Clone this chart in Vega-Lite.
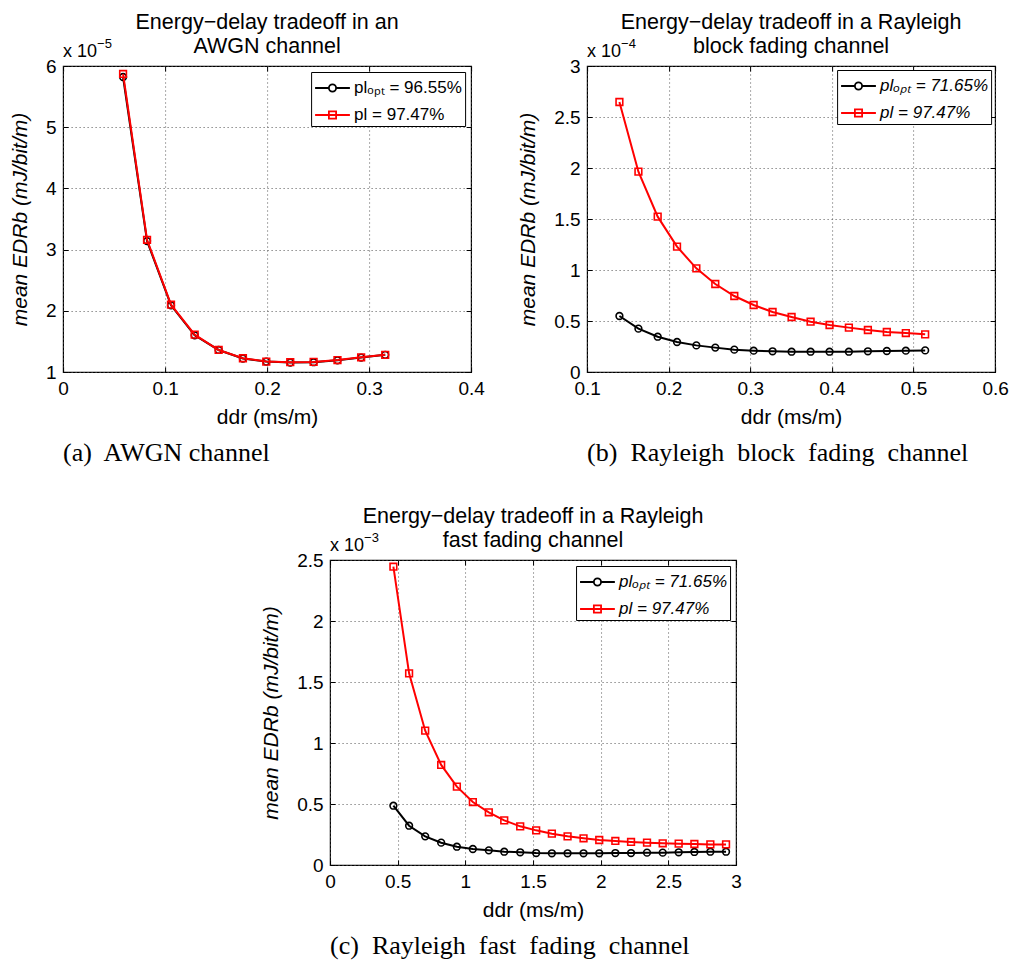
{
  "$schema": "https://vega.github.io/schema/vega-lite/v6.json",
  "padding": {"left": 8, "top": 10, "right": 2, "bottom": 2},
  "background": "white",
  "datasets": {
    "awgn": [
      {"ddr": 0.0588, "edr": 5.82, "s": "opt"}, {"ddr": 0.0823, "edr": 3.14, "s": "opt"},
      {"ddr": 0.1058, "edr": 2.09, "s": "opt"}, {"ddr": 0.1290, "edr": 1.60, "s": "opt"},
      {"ddr": 0.1525, "edr": 1.36, "s": "opt"}, {"ddr": 0.1763, "edr": 1.22, "s": "opt"},
      {"ddr": 0.1992, "edr": 1.17, "s": "opt"}, {"ddr": 0.2227, "edr": 1.155, "s": "opt"},
      {"ddr": 0.2456, "edr": 1.16, "s": "opt"}, {"ddr": 0.2690, "edr": 1.19, "s": "opt"},
      {"ddr": 0.2922, "edr": 1.235, "s": "opt"}, {"ddr": 0.3158, "edr": 1.28, "s": "opt"},
      {"ddr": 0.0588, "edr": 5.87, "s": "pl"}, {"ddr": 0.0823, "edr": 3.16, "s": "pl"},
      {"ddr": 0.1058, "edr": 2.10, "s": "pl"}, {"ddr": 0.1290, "edr": 1.61, "s": "pl"},
      {"ddr": 0.1525, "edr": 1.36, "s": "pl"}, {"ddr": 0.1763, "edr": 1.225, "s": "pl"},
      {"ddr": 0.1992, "edr": 1.17, "s": "pl"}, {"ddr": 0.2227, "edr": 1.16, "s": "pl"},
      {"ddr": 0.2456, "edr": 1.165, "s": "pl"}, {"ddr": 0.2690, "edr": 1.195, "s": "pl"},
      {"ddr": 0.2922, "edr": 1.24, "s": "pl"}, {"ddr": 0.3158, "edr": 1.28, "s": "pl"}
    ],
    "block": [
      {"ddr": 0.1396, "edr": 0.549, "s": "opt"}, {"ddr": 0.1629, "edr": 0.425, "s": "opt"},
      {"ddr": 0.1865, "edr": 0.346, "s": "opt"}, {"ddr": 0.2102, "edr": 0.294, "s": "opt"},
      {"ddr": 0.2339, "edr": 0.261, "s": "opt"}, {"ddr": 0.2571, "edr": 0.239, "s": "opt"},
      {"ddr": 0.2804, "edr": 0.219, "s": "opt"}, {"ddr": 0.3041, "edr": 0.209, "s": "opt"},
      {"ddr": 0.3273, "edr": 0.203, "s": "opt"}, {"ddr": 0.3506, "edr": 0.199, "s": "opt"},
      {"ddr": 0.3739, "edr": 0.199, "s": "opt"}, {"ddr": 0.3971, "edr": 0.199, "s": "opt"},
      {"ddr": 0.4208, "edr": 0.199, "s": "opt"}, {"ddr": 0.4441, "edr": 0.203, "s": "opt"},
      {"ddr": 0.4673, "edr": 0.206, "s": "opt"}, {"ddr": 0.4906, "edr": 0.209, "s": "opt"},
      {"ddr": 0.5143, "edr": 0.212, "s": "opt"},
      {"ddr": 0.1396, "edr": 2.647, "s": "pl"}, {"ddr": 0.1629, "edr": 1.964, "s": "pl"},
      {"ddr": 0.1865, "edr": 1.523, "s": "pl"}, {"ddr": 0.2102, "edr": 1.229, "s": "pl"},
      {"ddr": 0.2339, "edr": 1.016, "s": "pl"}, {"ddr": 0.2571, "edr": 0.863, "s": "pl"},
      {"ddr": 0.2804, "edr": 0.745, "s": "pl"}, {"ddr": 0.3041, "edr": 0.657, "s": "pl"},
      {"ddr": 0.3273, "edr": 0.588, "s": "pl"}, {"ddr": 0.3506, "edr": 0.539, "s": "pl"},
      {"ddr": 0.3739, "edr": 0.493, "s": "pl"}, {"ddr": 0.3971, "edr": 0.461, "s": "pl"},
      {"ddr": 0.4208, "edr": 0.435, "s": "pl"}, {"ddr": 0.4441, "edr": 0.412, "s": "pl"},
      {"ddr": 0.4673, "edr": 0.392, "s": "pl"}, {"ddr": 0.4906, "edr": 0.382, "s": "pl"},
      {"ddr": 0.5143, "edr": 0.369, "s": "pl"}
    ],
    "fast": [
      {"ddr": 0.468, "edr": 0.486, "s": "opt"}, {"ddr": 0.584, "edr": 0.322, "s": "opt"},
      {"ddr": 0.703, "edr": 0.235, "s": "opt"}, {"ddr": 0.821, "edr": 0.183, "s": "opt"},
      {"ddr": 0.937, "edr": 0.150, "s": "opt"}, {"ddr": 1.055, "edr": 0.131, "s": "opt"},
      {"ddr": 1.173, "edr": 0.120, "s": "opt"}, {"ddr": 1.287, "edr": 0.109, "s": "opt"},
      {"ddr": 1.405, "edr": 0.104, "s": "opt"}, {"ddr": 1.523, "edr": 0.098, "s": "opt"},
      {"ddr": 1.639, "edr": 0.096, "s": "opt"}, {"ddr": 1.755, "edr": 0.096, "s": "opt"},
      {"ddr": 1.873, "edr": 0.096, "s": "opt"}, {"ddr": 1.989, "edr": 0.096, "s": "opt"},
      {"ddr": 2.108, "edr": 0.098, "s": "opt"}, {"ddr": 2.224, "edr": 0.098, "s": "opt"},
      {"ddr": 2.342, "edr": 0.101, "s": "opt"}, {"ddr": 2.458, "edr": 0.101, "s": "opt"},
      {"ddr": 2.576, "edr": 0.104, "s": "opt"}, {"ddr": 2.692, "edr": 0.107, "s": "opt"},
      {"ddr": 2.810, "edr": 0.109, "s": "opt"}, {"ddr": 2.926, "edr": 0.109, "s": "opt"},
      {"ddr": 0.468, "edr": 2.445, "s": "pl"}, {"ddr": 0.584, "edr": 1.571, "s": "pl"},
      {"ddr": 0.703, "edr": 1.101, "s": "pl"}, {"ddr": 0.821, "edr": 0.820, "s": "pl"},
      {"ddr": 0.937, "edr": 0.642, "s": "pl"}, {"ddr": 1.055, "edr": 0.516, "s": "pl"},
      {"ddr": 1.173, "edr": 0.432, "s": "pl"}, {"ddr": 1.287, "edr": 0.366, "s": "pl"},
      {"ddr": 1.405, "edr": 0.317, "s": "pl"}, {"ddr": 1.523, "edr": 0.284, "s": "pl"},
      {"ddr": 1.639, "edr": 0.257, "s": "pl"}, {"ddr": 1.755, "edr": 0.235, "s": "pl"},
      {"ddr": 1.873, "edr": 0.219, "s": "pl"}, {"ddr": 1.989, "edr": 0.205, "s": "pl"},
      {"ddr": 2.108, "edr": 0.197, "s": "pl"}, {"ddr": 2.224, "edr": 0.189, "s": "pl"},
      {"ddr": 2.342, "edr": 0.183, "s": "pl"}, {"ddr": 2.458, "edr": 0.178, "s": "pl"},
      {"ddr": 2.576, "edr": 0.175, "s": "pl"}, {"ddr": 2.692, "edr": 0.172, "s": "pl"},
      {"ddr": 2.810, "edr": 0.169, "s": "pl"}, {"ddr": 2.926, "edr": 0.169, "s": "pl"}
    ]
  },
  "config": {
    "font": "Liberation Sans",
    "view": {"stroke": "black", "strokeWidth": 1.2},
    "title": {"font": "Liberation Sans", "fontSize": 21.5, "fontWeight": "normal", "color": "black", "lineHeight": 24, "offset": -19, "frame": "group"},
    "axis": {
      "grid": true, "gridDash": [1, 3], "gridColor": "#555555", "gridWidth": 1,
      "domain": false, "ticks": true, "tickColor": "black", "tickSize": -5, "tickWidth": 1,
      "labelFont": "Liberation Sans", "labelFontSize": 19, "labelColor": "black",
      "labelFlush": false, "labelOverlap": false, "labelPadding": 12, "format": "~g",
      "titleFont": "Liberation Sans", "titleFontSize": 21, "titleFontWeight": "normal", "titleColor": "black"
    },
    "axisX": {"titlePadding": 8},
    "axisY": {"titlePadding": 15, "titleFontStyle": "italic"},
    "legend": {
      "orient": "top-right", "offset": 6, "title": null,
      "strokeColor": "black", "fillColor": "white", "padding": 3,
      "labelFont": "Liberation Sans", "labelFontSize": 17, "labelColor": "black", "labelOffset": 14,
      "symbolSize": 576, "symbolStrokeWidth": 1.8, "symbolOpacity": 1, "rowPadding": 6
    }
  },
  "center": true,
  "spacing": 38,
  "resolve": {"scale": {"stroke": "independent", "shape": "independent"}, "legend": {"stroke": "independent", "shape": "independent"}},
  "vconcat": [
    {
      "spacing": 31,
      "resolve": {"scale": {"stroke": "independent", "shape": "independent"}, "legend": {"stroke": "independent", "shape": "independent"}},
      "hconcat": [
        {
          "title": {"text": "(a)\u00a0 AWGN channel", "orient": "bottom", "font": "Liberation Serif", "fontSize": 26, "offset": 12},
          "resolve": {"scale": {"stroke": "independent", "shape": "independent"}, "legend": {"stroke": "independent", "shape": "independent"}},
          "vconcat": [
            {
              "width": 408, "height": 306,
              "title": {"text": ["Energy\u2212delay tradeoff in an", "AWGN channel"]},
              "data": {"name": "awgn"},
              "resolve": {"axis": {"x": "independent", "y": "independent"}},
              "layer": [
                {
                  "transform": [{"filter": "datum.s == 'opt'"}],
                  "mark": {"type": "line", "strokeWidth": 2, "color": "black"},
                  "encoding": {
                    "x": {"field": "ddr", "type": "quantitative", "title": "ddr (ms/m)", "scale": {"domain": [0, 0.4], "nice": false, "zero": false}, "axis": {"values": [0, 0.1, 0.2, 0.3, 0.4]}},
                    "y": {"field": "edr", "type": "quantitative", "title": "mean EDRb (mJ/bit/m)", "scale": {"domain": [1, 6], "nice": false, "zero": false}, "axis": {"values": [1, 2, 3, 4, 5, 6]}}
                  }
                },
                {
                  "transform": [{"filter": "datum.s == 'opt'"}],
                  "mark": {"type": "point", "shape": "circle", "filled": false, "strokeWidth": 1.6, "size": 45, "opacity": 1, "color": "black"},
                  "encoding": {
                    "x": {"field": "ddr", "type": "quantitative", "axis": {"orient": "top", "labels": false, "title": null, "grid": false, "values": [0, 0.1, 0.2, 0.3, 0.4]}},
                    "y": {"field": "edr", "type": "quantitative", "axis": {"orient": "right", "labels": false, "title": null, "grid": false, "values": [1, 2, 3, 4, 5, 6]}}
                  }
                },
                {
                  "transform": [{"filter": "datum.s == 'pl'"}],
                  "mark": {"type": "line", "strokeWidth": 2, "color": "#ff0000"},
                  "encoding": {
                    "x": {"field": "ddr", "type": "quantitative", "axis": null},
                    "y": {"field": "edr", "type": "quantitative", "axis": null}
                  }
                },
                {
                  "transform": [{"filter": "datum.s == 'pl'"}],
                  "mark": {"type": "point", "shape": "square", "filled": false, "strokeWidth": 1.6, "size": 45, "opacity": 1, "color": "#ff0000"},
                  "encoding": {
                    "x": {"field": "ddr", "type": "quantitative", "axis": null},
                    "y": {"field": "edr", "type": "quantitative", "axis": null}
                  }
                },
                {
                  "data": {"values": []},
                  "mark": {"type": "point", "filled": false, "opacity": 1},
                  "encoding": {
                    "stroke": {"field": "series", "type": "nominal", "scale": {"domain": ["pl\u2092\u209a\u209c = 96.55%", "pl = 97.47%"], "range": ["black", "#ff0000"]}},
                    "shape": {"field": "series", "type": "nominal", "scale": {"domain": ["pl\u2092\u209a\u209c = 96.55%", "pl = 97.47%"], "range": ["M-1,0H0.15M0.75,0H1.9M0.75,0A0.3,0.3 0 1 1 0.15,0A0.3,0.3 0 1 1 0.75,0", "M-1,0H1.9M0.15,-0.3H0.75V0.3H0.15Z"]}}
                  }
                },
                {
                  "data": {"values": [{}]},
                  "mark": {"type": "text", "text": "x 10", "align": "left", "baseline": "alphabetic", "dy": -9, "fontSize": 18, "color": "black"},
                  "encoding": {"x": {"datum": 0, "type": "quantitative", "axis": null}, "y": {"datum": 6, "type": "quantitative", "axis": null}}
                },
                {
                  "data": {"values": [{}]},
                  "mark": {"type": "text", "text": "\u22125", "align": "left", "baseline": "alphabetic", "dx": 34, "dy": -18, "fontSize": 13, "color": "black"},
                  "encoding": {"x": {"datum": 0, "type": "quantitative", "axis": null}, "y": {"datum": 6, "type": "quantitative", "axis": null}}
                }
              ]
            }
          ]
        },
        {
          "title": {"text": "(b)\u00a0 Rayleigh\u00a0 block\u00a0 fading\u00a0 channel", "orient": "bottom", "font": "Liberation Serif", "fontSize": 26, "offset": 12},
          "resolve": {"scale": {"stroke": "independent", "shape": "independent"}, "legend": {"stroke": "independent", "shape": "independent"}},
          "vconcat": [
            {
              "width": 408, "height": 306,
              "title": {"text": ["Energy\u2212delay tradeoff in a Rayleigh", "block fading channel"]},
              "data": {"name": "block"},
              "resolve": {"axis": {"x": "independent", "y": "independent"}},
              "layer": [
                {
                  "transform": [{"filter": "datum.s == 'opt'"}],
                  "mark": {"type": "line", "strokeWidth": 2, "color": "black"},
                  "encoding": {
                    "x": {"field": "ddr", "type": "quantitative", "title": "ddr (ms/m)", "scale": {"domain": [0.1, 0.6], "nice": false, "zero": false}, "axis": {"values": [0.1, 0.2, 0.3, 0.4, 0.5, 0.6]}},
                    "y": {"field": "edr", "type": "quantitative", "title": "mean EDRb (mJ/bit/m)", "scale": {"domain": [0, 3], "nice": false, "zero": false}, "axis": {"values": [0, 0.5, 1, 1.5, 2, 2.5, 3]}}
                  }
                },
                {
                  "transform": [{"filter": "datum.s == 'opt'"}],
                  "mark": {"type": "point", "shape": "circle", "filled": false, "strokeWidth": 1.6, "size": 45, "opacity": 1, "color": "black"},
                  "encoding": {
                    "x": {"field": "ddr", "type": "quantitative", "axis": {"orient": "top", "labels": false, "title": null, "grid": false, "values": [0.1, 0.2, 0.3, 0.4, 0.5, 0.6]}},
                    "y": {"field": "edr", "type": "quantitative", "axis": {"orient": "right", "labels": false, "title": null, "grid": false, "values": [0, 0.5, 1, 1.5, 2, 2.5, 3]}}
                  }
                },
                {
                  "transform": [{"filter": "datum.s == 'pl'"}],
                  "mark": {"type": "line", "strokeWidth": 2, "color": "#ff0000"},
                  "encoding": {
                    "x": {"field": "ddr", "type": "quantitative", "axis": null},
                    "y": {"field": "edr", "type": "quantitative", "axis": null}
                  }
                },
                {
                  "transform": [{"filter": "datum.s == 'pl'"}],
                  "mark": {"type": "point", "shape": "square", "filled": false, "strokeWidth": 1.6, "size": 45, "opacity": 1, "color": "#ff0000"},
                  "encoding": {
                    "x": {"field": "ddr", "type": "quantitative", "axis": null},
                    "y": {"field": "edr", "type": "quantitative", "axis": null}
                  }
                },
                {
                  "data": {"values": []},
                  "mark": {"type": "point", "filled": false, "opacity": 1},
                  "encoding": {
                    "stroke": {"field": "series", "type": "nominal", "scale": {"domain": ["pl\u2092\u209a\u209c = 71.65%", "pl = 97.47%"], "range": ["black", "#ff0000"]}, "legend": {"labelFontStyle": "italic", "offset": 4}},
                    "shape": {"field": "series", "type": "nominal", "scale": {"domain": ["pl\u2092\u209a\u209c = 71.65%", "pl = 97.47%"], "range": ["M-1,0H0.15M0.75,0H1.9M0.75,0A0.3,0.3 0 1 1 0.15,0A0.3,0.3 0 1 1 0.75,0", "M-1,0H1.9M0.15,-0.3H0.75V0.3H0.15Z"]}, "legend": {"labelFontStyle": "italic", "offset": 4}}
                  }
                },
                {
                  "data": {"values": [{}]},
                  "mark": {"type": "text", "text": "x 10", "align": "left", "baseline": "alphabetic", "dy": -9, "fontSize": 18, "color": "black"},
                  "encoding": {"x": {"datum": 0.1, "type": "quantitative", "axis": null}, "y": {"datum": 3, "type": "quantitative", "axis": null}}
                },
                {
                  "data": {"values": [{}]},
                  "mark": {"type": "text", "text": "\u22124", "align": "left", "baseline": "alphabetic", "dx": 34, "dy": -18, "fontSize": 13, "color": "black"},
                  "encoding": {"x": {"datum": 0.1, "type": "quantitative", "axis": null}, "y": {"datum": 3, "type": "quantitative", "axis": null}}
                }
              ]
            }
          ]
        }
      ]
    },
    {
      "title": {"text": "(c)\u00a0 Rayleigh\u00a0 fast\u00a0 fading\u00a0 channel", "orient": "bottom", "font": "Liberation Serif", "fontSize": 26, "offset": 12},
      "resolve": {"scale": {"stroke": "independent", "shape": "independent"}, "legend": {"stroke": "independent", "shape": "independent"}},
      "vconcat": [
        {
          "width": 406, "height": 305,
          "title": {"text": ["Energy\u2212delay tradeoff in a Rayleigh", "fast fading channel"]},
          "data": {"name": "fast"},
          "resolve": {"axis": {"x": "independent", "y": "independent"}},
          "layer": [
            {
              "transform": [{"filter": "datum.s == 'opt'"}],
              "mark": {"type": "line", "strokeWidth": 2, "color": "black"},
              "encoding": {
                "x": {"field": "ddr", "type": "quantitative", "title": "ddr (ms/m)", "scale": {"domain": [0, 3], "nice": false, "zero": false}, "axis": {"values": [0, 0.5, 1, 1.5, 2, 2.5, 3]}},
                "y": {"field": "edr", "type": "quantitative", "title": "mean EDRb (mJ/bit/m)", "scale": {"domain": [0, 2.5], "nice": false, "zero": false}, "axis": {"values": [0, 0.5, 1, 1.5, 2, 2.5]}}
              }
            },
            {
              "transform": [{"filter": "datum.s == 'opt'"}],
              "mark": {"type": "point", "shape": "circle", "filled": false, "strokeWidth": 1.6, "size": 45, "opacity": 1, "color": "black"},
              "encoding": {
                "x": {"field": "ddr", "type": "quantitative", "axis": {"orient": "top", "labels": false, "title": null, "grid": false, "values": [0, 0.5, 1, 1.5, 2, 2.5, 3]}},
                "y": {"field": "edr", "type": "quantitative", "axis": {"orient": "right", "labels": false, "title": null, "grid": false, "values": [0, 0.5, 1, 1.5, 2, 2.5]}}
              }
            },
            {
              "transform": [{"filter": "datum.s == 'pl'"}],
              "mark": {"type": "line", "strokeWidth": 2, "color": "#ff0000"},
              "encoding": {
                "x": {"field": "ddr", "type": "quantitative", "axis": null},
                "y": {"field": "edr", "type": "quantitative", "axis": null}
              }
            },
            {
              "transform": [{"filter": "datum.s == 'pl'"}],
              "mark": {"type": "point", "shape": "square", "filled": false, "strokeWidth": 1.6, "size": 45, "opacity": 1, "color": "#ff0000"},
              "encoding": {
                "x": {"field": "ddr", "type": "quantitative", "axis": null},
                "y": {"field": "edr", "type": "quantitative", "axis": null}
              }
            },
            {
              "data": {"values": []},
              "mark": {"type": "point", "filled": false, "opacity": 1},
              "encoding": {
                "stroke": {"field": "series", "type": "nominal", "scale": {"domain": ["pl\u2092\u209a\u209c = 71.65%", "pl = 97.47%"], "range": ["black", "#ff0000"]}, "legend": {"labelFontStyle": "italic"}},
                "shape": {"field": "series", "type": "nominal", "scale": {"domain": ["pl\u2092\u209a\u209c = 71.65%", "pl = 97.47%"], "range": ["M-1,0H0.15M0.75,0H1.9M0.75,0A0.3,0.3 0 1 1 0.15,0A0.3,0.3 0 1 1 0.75,0", "M-1,0H1.9M0.15,-0.3H0.75V0.3H0.15Z"]}, "legend": {"labelFontStyle": "italic"}}
              }
            },
            {
              "data": {"values": [{}]},
              "mark": {"type": "text", "text": "x 10", "align": "left", "baseline": "alphabetic", "dy": -9, "fontSize": 18, "color": "black"},
              "encoding": {"x": {"datum": 0, "type": "quantitative", "axis": null}, "y": {"datum": 2.5, "type": "quantitative", "axis": null}}
            },
            {
              "data": {"values": [{}]},
              "mark": {"type": "text", "text": "\u22123", "align": "left", "baseline": "alphabetic", "dx": 34, "dy": -18, "fontSize": 13, "color": "black"},
              "encoding": {"x": {"datum": 0, "type": "quantitative", "axis": null}, "y": {"datum": 2.5, "type": "quantitative", "axis": null}}
            }
          ]
        }
      ]
    }
  ]
}
